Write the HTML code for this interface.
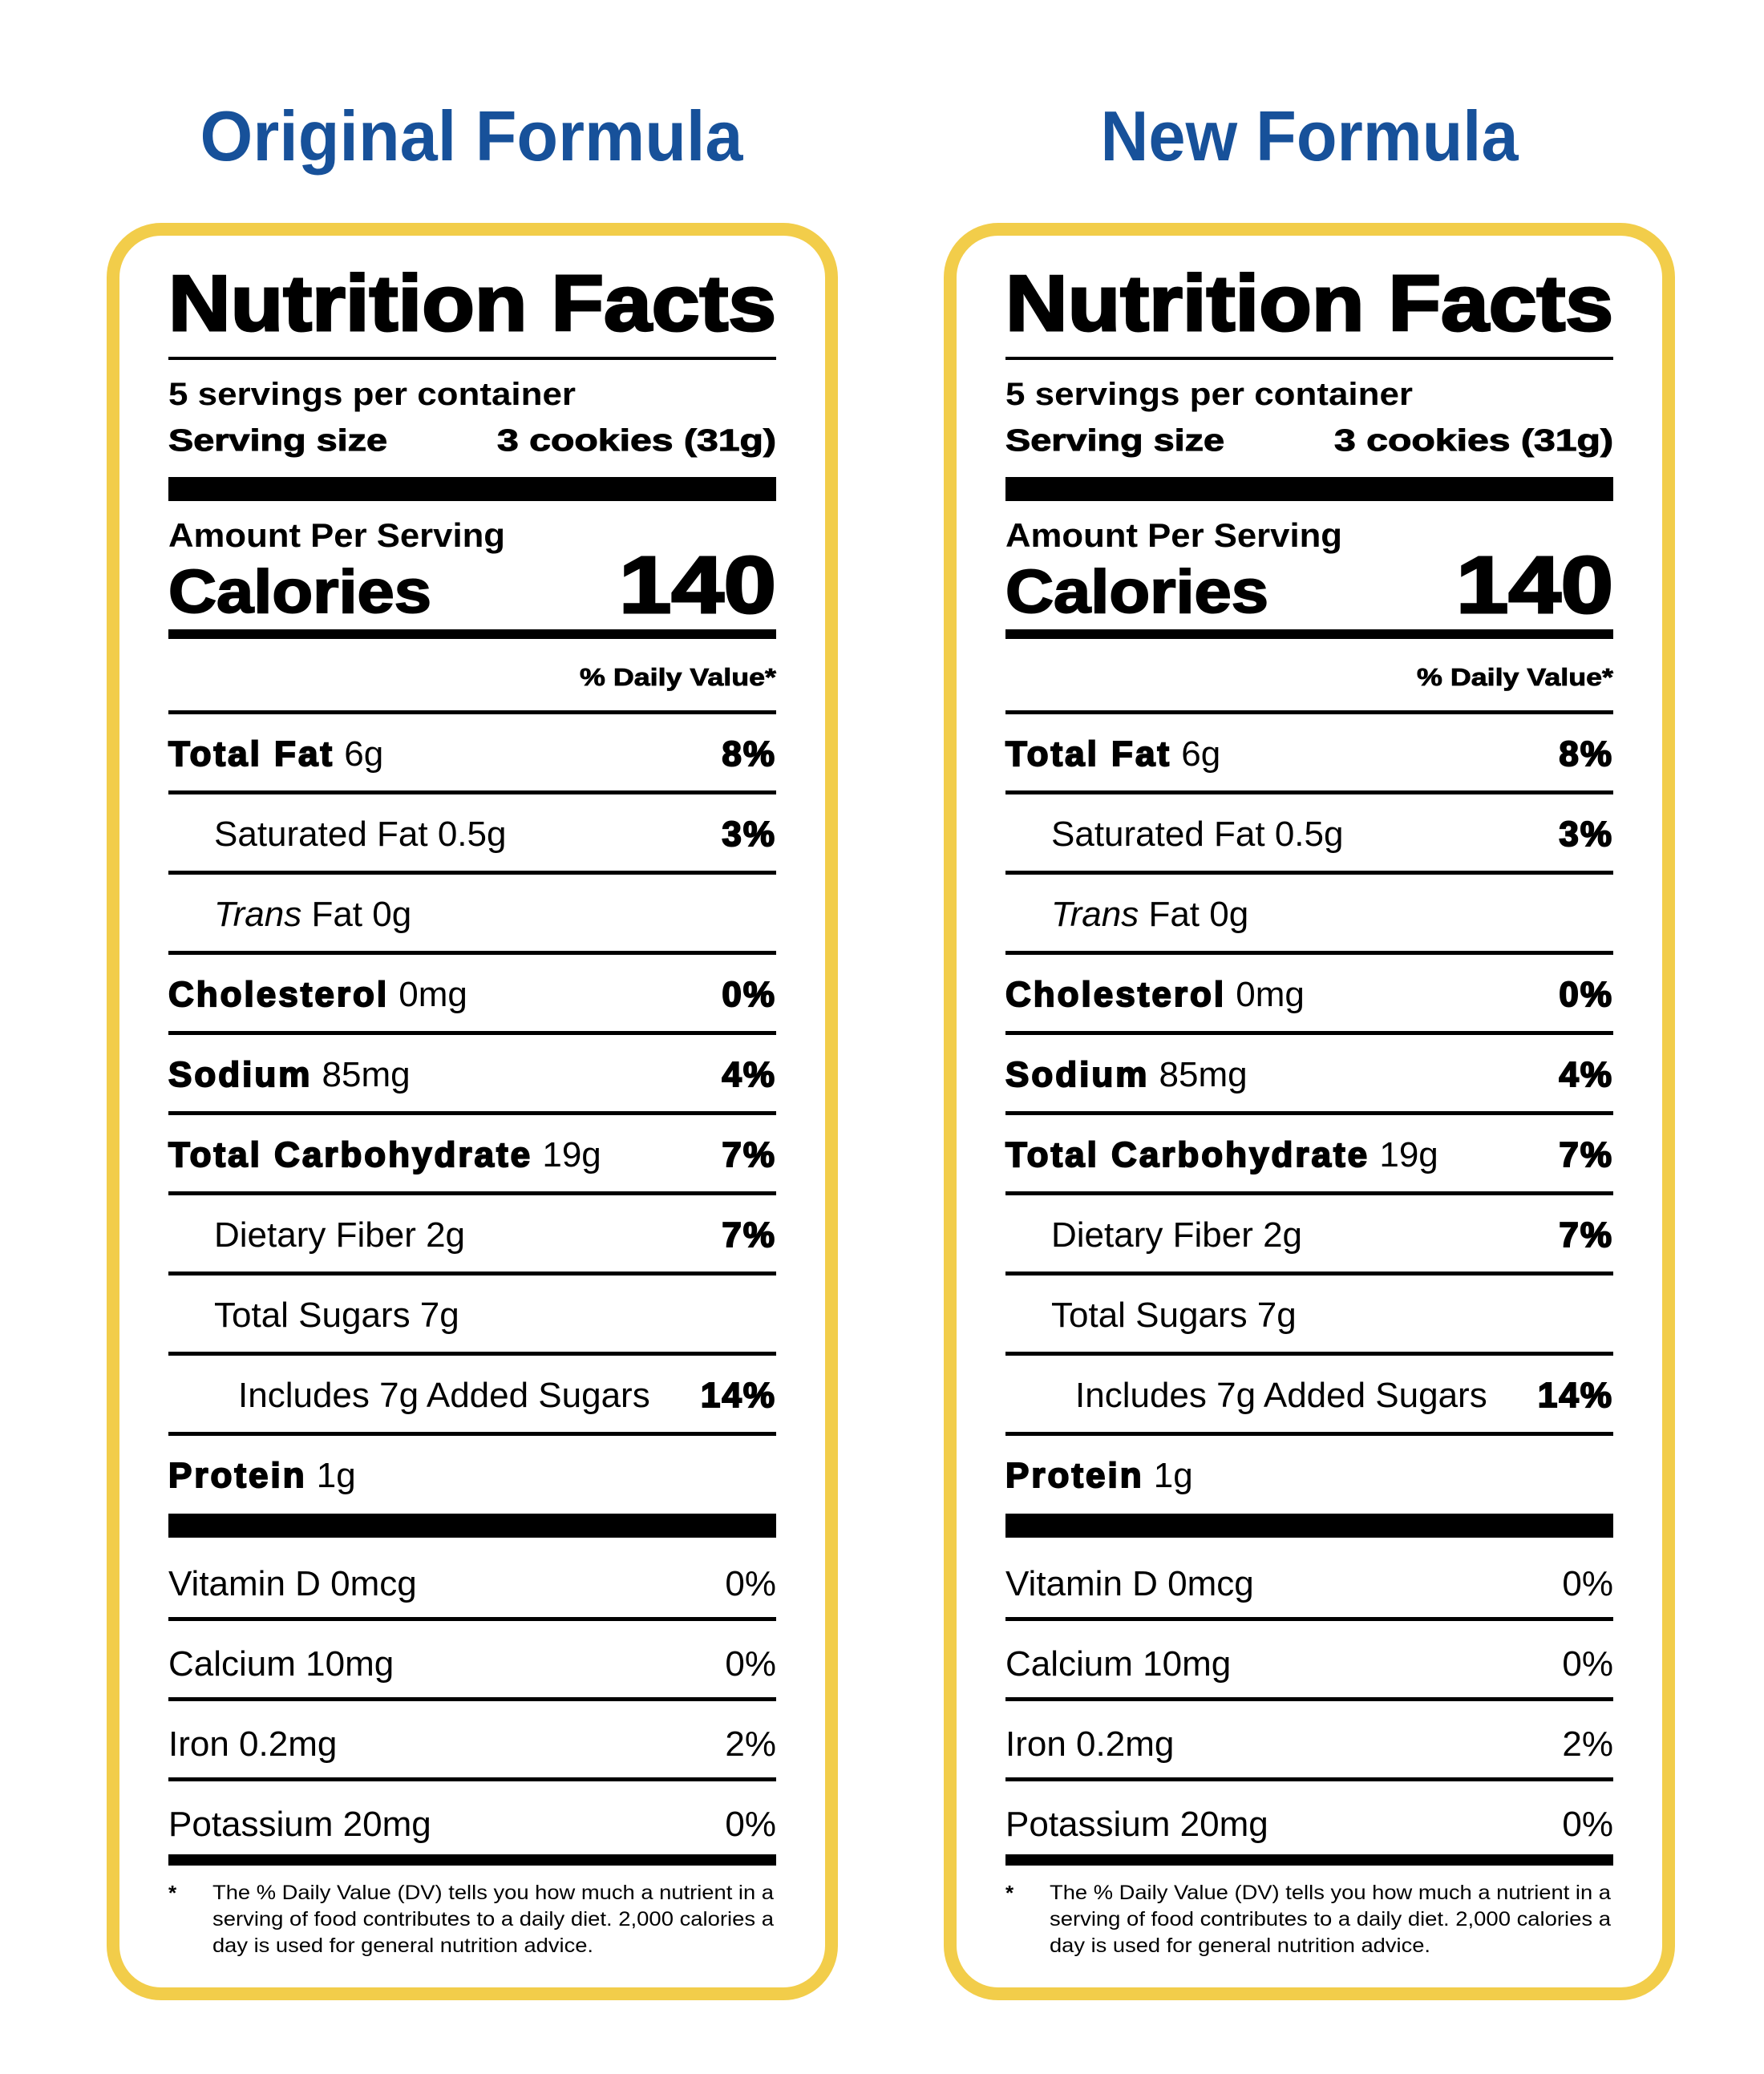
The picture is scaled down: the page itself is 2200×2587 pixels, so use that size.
<!DOCTYPE html>
<html><head><meta charset="utf-8"><style>
html,body{margin:0;padding:0;background:#fff;}
svg{display:block;font-family:"Liberation Sans",Arial,sans-serif;}
</style></head><body>
<svg id="s" xmlns="http://www.w3.org/2000/svg" width="2200" height="2587" viewBox="0 0 2200 2587"></svg>
<script>
const titles = ["Original Formula", "New Formula"];
const titleCenters = [588, 1633];
const titleLens = [677, 521];
const offsets = [0, 1044];
const rowLabels = ["Total Fat", "Saturated Fat", "Trans", "Cholesterol", "Sodium", "Total Carbohydrate", "Dietary Fiber", "Total Sugars", "Includes 7g Added Sugars", "Protein"];
const rowAmounts = [" 6g", " 0.5g", " Fat 0g", " 0mg", " 85mg", " 19g", " 2g", " 7g", "", " 1g"];
const rowDV = ["8%", "3%", "", "0%", "4%", "7%", "7%", "", "14%", ""];
const rowIndent = [0, 1, 1, 0, 0, 0, 1, 1, 2, 0];
const rowBold = [1, 0, 0, 1, 1, 1, 0, 0, 0, 1];
const vitLabels = ["Vitamin D 0mcg", "Calcium 10mg", "Iron 0.2mg", "Potassium 20mg"];
const vitDV = ["0%", "0%", "2%", "0%"];

const NS = "http://www.w3.org/2000/svg";
const svg = document.getElementById("s");
function mk(tag, attrs, parent) {
  const e = document.createElementNS(NS, tag);
  for (const k in attrs) e.setAttribute(k, attrs[k]);
  (parent || svg).appendChild(e);
  return e;
}
function txt(x, y, str, size, opts, parent) {
  const a = {x: x, y: y, "font-size": size, fill: "#000"};
  Object.assign(a, opts || {});
  const t = mk("text", a, parent);
  t.textContent = str;
  return t;
}
const L = 210, R = 968, W = R - L;
const indentPx = [0, 57, 87];

offsets.forEach((dx, p) => {
  const g = mk("g", {transform: "translate(" + dx + ",0)"});
  
  
  const t = txt(titleCenters[p] - dx, 200, titles[p], 88, {"font-weight": "bold", fill: "#17519a", "text-anchor": "middle", textLength: titleLens[p], lengthAdjust: "spacingAndGlyphs"}, g);
  
  
  const card = mk("rect", {x: 141, y: 286, width: 896, height: 2201, rx: 60, fill: "#fff", stroke: "#f2cd4a", "stroke-width": 16}, g);
  
  
  const h = txt(L, 412, "Nutrition Facts", 98, {"font-weight": "bold", stroke: "#000", "stroke-width": 3, textLength: W, lengthAdjust: "spacingAndGlyphs"}, g);
  
  
  mk("rect", {x: L, y: 445, width: W, height: 4, fill: "#000"}, g);
  const sp = txt(L, 505, "5 servings per container", 40, {"font-weight": "bold", textLength: 508, lengthAdjust: "spacingAndGlyphs"}, g);
  
  
  const ss = txt(L, 562, "Serving size", 38, {"font-weight": "bold", stroke: "#000", "stroke-width": 1, textLength: 273, lengthAdjust: "spacingAndGlyphs"}, g);
  
  
  const sv = txt(R, 562, "3 cookies (31g)", 38, {"font-weight": "bold", stroke: "#000", "stroke-width": 1, "text-anchor": "end", textLength: 348, lengthAdjust: "spacingAndGlyphs"}, g);
  
  
  mk("rect", {x: L, y: 595, width: W, height: 30, fill: "#000"}, g);
  const ap = txt(L, 682, "Amount Per Serving", 42, {"font-weight": "bold", textLength: 420, lengthAdjust: "spacingAndGlyphs"}, g);
  
  
  const cl = txt(L, 764, "Calories", 76, {"font-weight": "bold", stroke: "#000", "stroke-width": 2, textLength: 328, lengthAdjust: "spacingAndGlyphs"}, g);
  
  
  const cv = txt(R, 764, "140", 100, {"font-weight": "bold", stroke: "#000", "stroke-width": 3, "text-anchor": "end", textLength: 196, lengthAdjust: "spacingAndGlyphs"}, g);
  
  
  mk("rect", {x: L, y: 785, width: W, height: 12, fill: "#000"}, g);
  const dvh = txt(R, 855, "% Daily Value*", 31, {"font-weight": "bold", stroke: "#000", "stroke-width": 0.8, "text-anchor": "end", textLength: 245, lengthAdjust: "spacingAndGlyphs"}, g);
  
  
  mk("rect", {x: L, y: 886, width: W, height: 5, fill: "#000"}, g);

  rowLabels.forEach((lab, i) => {
    const y = 955 + i * 100;
    const t = mk("text", {x: L + indentPx[rowIndent[i]], y: y, "font-size": 44, fill: "#000"}, g);
    
    
    const a = document.createElementNS(NS, "tspan");
    a.textContent = lab;
    if (rowBold[i]) { a.setAttribute("font-weight", "bold"); a.setAttribute("stroke", "#000"); a.setAttribute("stroke-width", "2"); a.setAttribute("letter-spacing", "3"); }
    if (lab === "Trans") a.setAttribute("font-style", "italic");
    t.appendChild(a);
    const b = document.createElementNS(NS, "tspan");
    b.textContent = rowAmounts[i];
    t.appendChild(b);
    if (rowDV[i]) {
      const d = txt(R, y, rowDV[i], 44, {"font-weight": "bold", stroke: "#000", "stroke-width": 2, "text-anchor": "end", "letter-spacing": 2}, g);
      
      
    }
    if (i < rowLabels.length - 1) {
      const ln = mk("rect", {x: L, y: y + 31, width: W, height: 5, fill: "#000"}, g);
      
      
    }
  });
  mk("rect", {x: L, y: 1888, width: W, height: 30, fill: "#000"}, g);
  vitLabels.forEach((lab, i) => {
    const y = 1990 + i * 100;
    const t = txt(L, y, lab, 44, {}, g);
    
    
    const d = txt(R, y, vitDV[i], 44, {"text-anchor": "end"}, g);
    
    
    if (i < vitLabels.length - 1) {
      const ln = mk("rect", {x: L, y: y + 27, width: W, height: 5, fill: "#000"}, g);
      
      
    }
  });
  mk("rect", {x: L, y: 2313, width: W, height: 14, fill: "#000"}, g);
  const st = txt(L, 2370, "*", 26, {"font-weight": "bold"}, g);
  
  
  const fl = ["The % Daily Value (DV) tells you how much a nutrient in a", "serving of food contributes to a daily diet. 2,000 calories a", "day is used for general nutrition advice."];
  fl.forEach((s, i) => {
    const f = txt(265, 2369 + i * 33, s, 25, i < 2 ? {textLength: 700, lengthAdjust: "spacingAndGlyphs"} : {textLength: 475, lengthAdjust: "spacingAndGlyphs"}, g);
    
    
  });
});
</script>
</body></html>
